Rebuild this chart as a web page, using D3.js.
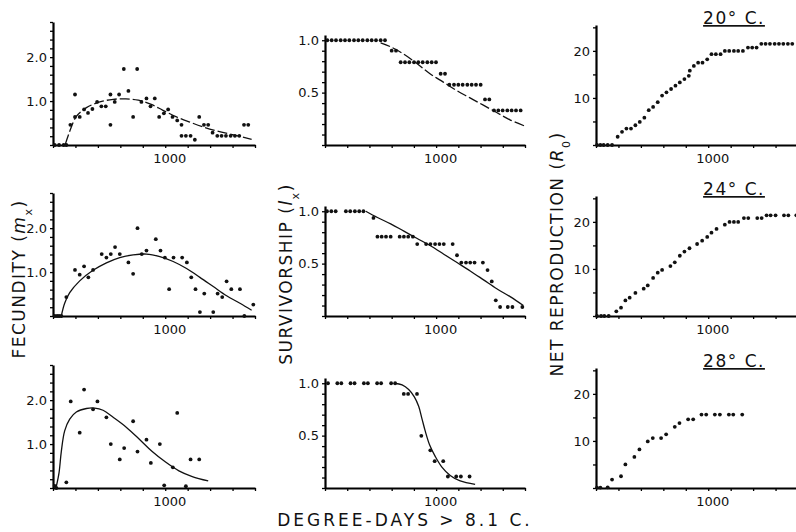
<!DOCTYPE html>
<html>
<head>
<meta charset="utf-8">
<script src="https://cdn.jsdelivr.net/npm/d3@7"></script>
<style>
  body { margin: 0; background: #fff; }
  svg { display: block; font-family: "DejaVu Sans", sans-serif; }
</style>
</head>
<body>
<script>
const width = 796,
    height = 532;

// degree-days shared by every panel
const xTicks = [0, 200, 400, 600, 800, 1000, 1200, 1400, 1600, 1800];

// fecundity (m_x) at 20, 24, 28 C : [degree-days, value]
const fec20Pts = [[15,0],[54,0],[95,0],[119,0],[155,0.46],[196,1.15],[196,0.64],[238,0.64],[277,0.81],[312,0.73],[351,0.82],[393,0.98],[431,0.88],[470,0.88],[512,1.15],[512,0.46],[550,0.98],[589,1.15],[631,1.73],[672,1.23],[714,0.64],[750,1.73],[788,0.98],[833,1.06],[869,0.88],[907,1.06],[946,0.64],[988,0.72],[1026,0.81],[1065,0.64],[1107,0.56],[1145,0.46],[1145,0.21],[1184,0.21],[1226,0.21],[1264,0.12],[1303,0.64],[1345,0.46],[1383,0.46],[1422,0.28],[1464,0.21],[1502,0.21],[1541,0.21],[1583,0.21],[1621,0.21],[1660,0.21],[1702,0.46],[1740,0.46]];
const fec20Fit = [[110,0.02],[149,0.31],[208,0.65],[298,0.85],[417,0.98],[536,1.04],[650,1.05],[760,1.02],[870,0.93],[980,0.79],[1100,0.64],[1220,0.52],[1340,0.41],[1460,0.32],[1607,0.23],[1770,0.13]];

const fec24Pts = [[15,0],[36,0],[54,0],[74,0],[119,0.43],[196,1.05],[238,0.94],[277,1.13],[315,0.88],[357,1.05],[434,1.41],[476,1.33],[515,1.41],[553,1.57],[595,1.41],[672,1.22],[714,0.96],[753,2.0],[791,1.41],[833,1.49],[916,1.75],[958,1.49],[997,1.33],[1035,0.61],[1074,1.33],[1151,1.33],[1193,1.22],[1232,0.88],[1270,0.61],[1309,0.09],[1348,0.51],[1428,0.09],[1467,0.51],[1508,0.43],[1547,0.79],[1589,0.61],[1666,0.61],[1705,0],[1785,0.26]];
const fec24Fit = [[74,0],[104,0.29],[149,0.53],[238,0.80],[357,1.04],[476,1.21],[595,1.33],[714,1.39],[833,1.41],[952,1.35],[1071,1.24],[1190,1.08],[1309,0.88],[1428,0.67],[1547,0.46],[1666,0.29],[1770,0.13]];

const fec28Pts = [[15,0.05],[30,0],[119,0.13],[158,1.97],[238,1.26],[277,2.24],[357,1.79],[396,1.97],[476,1.61],[515,1.0],[595,0.65],[634,0.91],[714,1.52],[753,0.83],[833,1.10],[872,0.57],[952,1.0],[991,0.06],[1068,0.47],[1107,1.71],[1184,0.04],[1226,0.65],[1303,0.65]];
const fec28Fit = [[30,0.04],[54,0.35],[74,0.83],[104,1.30],[149,1.57],[208,1.73],[298,1.81],[372,1.82],[446,1.77],[536,1.61],[655,1.38],[774,1.10],[884,0.83],[1003,0.59],[1122,0.39],[1241,0.26],[1383,0.16]];

// survivorship (l_x)
const surv20Pts = [[21,1],[60,1],[99,1],[141,1],[180,1],[219,1],[261,1],[300,1],[339,1],[381,1],[420,1],[459,1],[501,1],[540,1],[600,0.9],[639,0.9],[681,0.79],[720,0.79],[759,0.79],[801,0.79],[840,0.79],[879,0.79],[921,0.79],[960,0.79],[999,0.79],[1041,0.68],[1080,0.68],[1119,0.575],[1161,0.575],[1200,0.575],[1239,0.575],[1281,0.575],[1320,0.575],[1359,0.575],[1401,0.575],[1440,0.435],[1479,0.435],[1521,0.33],[1560,0.33],[1599,0.33],[1641,0.33],[1680,0.33],[1719,0.33],[1761,0.33]];
const surv20Fit = [[501,0.975],[585,0.94],[705,0.87],[825,0.78],[945,0.68],[1065,0.60],[1185,0.52],[1305,0.45],[1425,0.38],[1545,0.31],[1665,0.24],[1800,0.18]];

const surv24Pts = [[18,1],[57,1],[96,1],[188,1],[227,1],[269,1],[308,1],[346,1],[436,0.936],[472,0.757],[510,0.757],[549,0.757],[591,0.757],[672,0.757],[710,0.757],[749,0.757],[791,0.757],[830,0.687],[910,0.687],[949,0.687],[991,0.687],[1030,0.687],[1069,0.687],[1149,0.687],[1188,0.58],[1227,0.51],[1269,0.51],[1307,0.51],[1346,0.51],[1421,0.51],[1463,0.438],[1501,0.33],[1537,0.15],[1576,0.086],[1645,0.086],[1687,0.086],[1776,0.086]];
const surv24Fit = [[367,1.0],[472,0.94],[591,0.88],[710,0.81],[830,0.74],[949,0.67],[1069,0.59],[1188,0.51],[1307,0.43],[1427,0.345],[1546,0.26],[1666,0.185],[1785,0.10]];

const surv28Pts = [[27,1],[111,1],[147,1],[230,1],[266,1],[350,1],[386,1],[469,1],[505,1],[595,1],[631,1],[709,0.898],[748,0.898],[828,0.898],[867,0.498],[948,0.36],[987,0.256],[1064,0.256],[1106,0.11],[1181,0.11],[1223,0.11],[1301,0.11]];
const surv28Fit = [[625,1.0],[694,0.984],[753,0.94],[804,0.87],[843,0.78],[873,0.66],[903,0.54],[942,0.41],[993,0.30],[1052,0.20],[1127,0.12],[1217,0.067],[1351,0.035]];

// net reproduction (R_0)
const net20Pts = [[9,0],[39,0],[68,0],[104,0],[143,0],[193,1.75],[232,2.8],[271,3.5],[312,3.5],[351,4.2],[390,4.9],[431,5.8],[470,7.4],[509,8.1],[550,9.1],[589,10.5],[628,11.2],[669,11.9],[708,12.6],[747,13.3],[788,14.0],[827,14.7],[836,15.8],[872,16.8],[910,17.5],[949,17.5],[991,18.2],[1029,19.3],[1068,19.3],[1110,19.3],[1148,20.0],[1187,20.0],[1229,20.0],[1267,20.0],[1309,20.0],[1354,20.7],[1392,20.7],[1431,20.7],[1473,21.5],[1511,21.5],[1550,21.5],[1592,21.5],[1630,21.5],[1669,21.5],[1710,21.5],[1749,21.5]];
const net24Pts = [[9,0],[45,0],[74,0],[113,0],[181,1.0],[223,1.76],[262,3.3],[300,3.9],[351,4.9],[425,5.8],[461,6.5],[509,8.1],[550,9.2],[589,9.8],[663,10.6],[702,11.4],[747,12.8],[788,13.7],[833,14.4],[901,15.3],[946,16.0],[991,16.8],[1029,17.7],[1074,18.5],[1148,19.4],[1190,20.0],[1229,20.0],[1267,20.0],[1318,20.8],[1357,20.8],[1437,20.8],[1476,20.8],[1520,21.4],[1556,21.4],[1600,21.4],[1675,21.4],[1714,21.4],[1785,21.4]];
const net28Pts = [[9,0.1],[39,0.1],[104,0.15],[143,1.8],[223,2.5],[262,5.0],[342,6.6],[387,8.2],[461,9.9],[506,10.6],[580,10.6],[625,11.4],[702,13.0],[744,13.8],[821,14.6],[866,14.6],[940,15.6],[982,15.6],[1059,15.6],[1104,15.6],[1184,15.6],[1223,15.6],[1303,15.6]];

const temps = ["20° C.", "24° C.", "28° C."];

// layout
const cols = [{x0: 53, w: 202}, {x0: 325, w: 200}, {x0: 596, w: 202}];
const rowBase = [145, 316, 488];
const kinds = {
  fec:  {domain: [0, 2.8],  h: 123, ticks: d3.range(0, 2.81, 0.2), labels: [1, 2], fmt: d3.format(".1f")},
  surv: {domain: [0, 1.05], h: 110, ticks: d3.range(0, 1.01, 0.1), labels: [0.5, 1], fmt: d3.format(".1f")},
  net:  {domain: [0, 25.5], h: 120, ticks: d3.range(0, 26, 5),     labels: [10, 20], fmt: d3.format("d")}
};

const panels = [
  {col: 0, row: 0, kind: "fec",  pts: fec20Pts,  fit: fec20Fit,  dashed: true},
  {col: 0, row: 1, kind: "fec",  pts: fec24Pts,  fit: fec24Fit},
  {col: 0, row: 2, kind: "fec",  pts: fec28Pts,  fit: fec28Fit},
  {col: 1, row: 0, kind: "surv", pts: surv20Pts, fit: surv20Fit, dashed: true},
  {col: 1, row: 1, kind: "surv", pts: surv24Pts, fit: surv24Fit},
  {col: 1, row: 2, kind: "surv", pts: surv28Pts, fit: surv28Fit},
  {col: 2, row: 0, kind: "net",  pts: net20Pts},
  {col: 2, row: 1, kind: "net",  pts: net24Pts},
  {col: 2, row: 2, kind: "net",  pts: net28Pts}
];

const svg = d3.select("body").append("svg")
    .attr("width", width)
    .attr("height", height);

panels.forEach(p => {
  const c = cols[p.col], base = rowBase[p.row], k = kinds[p.kind];
  const x = d3.scaleLinear().domain([0, 1800]).range([c.x0, c.x0 + c.w]);
  const y = d3.scaleLinear().domain(k.domain).range([base, base - k.h]);
  const g = svg.append("g");

  const xa = g.append("g")
      .attr("transform", `translate(0,${base})`)
      .call(d3.axisBottom(x).tickValues(xTicks).tickSize(3).tickSizeOuter(0).tickPadding(6)
          .tickFormat(d => d === 1000 ? "1000" : ""));
  xa.selectAll("text").attr("dx", 4);

  g.append("g")
      .attr("transform", `translate(${c.x0},0)`)
      .call(d3.axisLeft(y).tickValues(k.ticks).tickSize(3).tickSizeOuter(0).tickPadding(3)
          .tickFormat(d => k.labels.some(l => Math.abs(l - d) < 1e-6) ? k.fmt(d) : ""));

  g.selectAll(".domain").attr("stroke", "#000").attr("stroke-width", 2.2);
  g.selectAll(".tick line").attr("stroke", "#000").attr("stroke-width", 1.3);
  g.selectAll(".tick text").attr("fill", "#111").style("font-size", "13px")
      .style("font-family", "DejaVu Sans, sans-serif");

  if (p.fit) {
    g.append("path")
        .datum(p.fit)
        .attr("fill", "none")
        .attr("stroke", "#111")
        .attr("stroke-width", 1.3)
        .attr("stroke-dasharray", p.dashed ? "10,3" : null)
        .attr("d", d3.line().x(d => x(d[0])).y(d => y(d[1])).curve(d3.curveCatmullRom.alpha(0.5)));
  }

  g.selectAll("circle")
      .data(p.pts)
      .enter().append("circle")
      .attr("cx", d => x(d[0]))
      .attr("cy", d => y(d[1]))
      .attr("r", 1.9)
      .attr("fill", "#111");

  if (p.kind === "net") {
    g.append("text")
        .attr("x", 734)
        .attr("y", base - 121)
        .attr("text-anchor", "middle")
        .style("font-size", "17px")
        .style("letter-spacing", "1.5px")
        .style("text-decoration", "underline")
        .attr("fill", "#111")
        .text(temps[p.row]);
  }
});

// axis titles
function vtitle(tx, ty, main, italic, sub) {
  const t = svg.append("text")
      .attr("transform", `translate(${tx},${ty}) rotate(-90)`)
      .attr("text-anchor", "middle")
      .style("font-size", "17px")
      .style("letter-spacing", "1.5px")
      .attr("fill", "#111");
  t.append("tspan").text(main + " (");
  t.append("tspan").style("font-style", "italic").text(italic);
  t.append("tspan").attr("baseline-shift", "sub").style("font-size", "11px").text(sub);
  t.append("tspan").text(")");
}
vtitle(25, 279, "FECUNDITY", "m", "x");
vtitle(292, 274, "SURVIVORSHIP", "l", "x");
vtitle(563, 254, "NET REPRODUCTION", "R", "0");

svg.append("text")
    .attr("x", 405)
    .attr("y", 526)
    .attr("text-anchor", "middle")
    .style("font-size", "17px")
    .style("letter-spacing", "3px")
    .attr("fill", "#111")
    .text("DEGREE-DAYS > 8.1 C.");
</script>
</body>
</html>
